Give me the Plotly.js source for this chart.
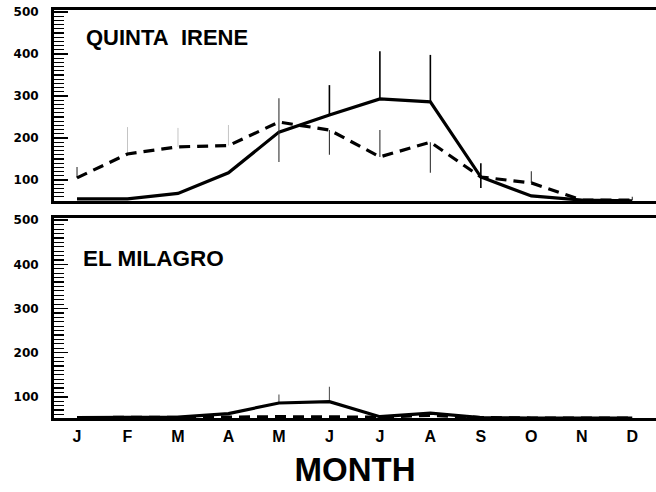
<!DOCTYPE html>
<html>
<head>
<meta charset="utf-8">
<script src="https://cdn.plot.ly/plotly-3.0.1.min.js"></script>
<style>html,body{margin:0;padding:0;background:#fff;}#chart{width:656px;height:492px;}</style>
</head>
<body>
<div id="chart"></div>
<script>
// Month categories (x tick labels)
const months = ["J","F","M","A","M","J","J","A","S","O","N","D"];
const monthIdx = [0,1,2,3,4,5,6,7,8,9,10,11];

// QUINTA IRENE - solid series
const qiSolid      = [55, 55, 68, 117, 214, 255, 293, 286, 107, 62, 52, 50];
const qiSolidPlus  = [0, 0, 0, 0, 0, 71, 114, 112, 33, 0, 0, 0];
const qiSolidMinus = [0, 0, 0, 0, 0, 0, 0, 0, 26, 0, 0, 0];

// QUINTA IRENE - dashed series
const qiDash       = [105, 162, 179, 182, 238, 219, 155, 190, 107, 93, 52, 52];
const qiDashPlus   = [26, 0, 0, 0, 57, 0, 64, 0, 0, 28, 0, 8];
const qiDashMinus  = [0, 0, 0, 0, 95, 59, 0, 73, 0, 0, 0, 0];
// faint upper error marks of the dashed series
const qiDashFaintPlus = [0, 64, 45, 49, 0, 0, 0, 0, 0, 0, 0, 0];

// EL MILAGRO - solid series
const emSolid      = [53, 53, 54, 62, 86, 89, 55, 63, 53, 52, 52, 52];
const emSolidPlus  = [0, 0, 0, 0, 19, 34, 0, 0, 0, 0, 0, 0];
// EL MILAGRO - dashed series
const emDash       = [53, 53, 53, 54, 55, 55, 54, 58, 53, 52, 52, 52];

const black = "#000";
const solidLine = {color: black, width: 3.2};
const dashLine = {color: black, width: 3.2, dash: "11px,7px"};

function eb(plus, minus, color, thick) {
  return {type: "data", symmetric: false, array: plus, arrayminus: minus || plus.map(() => 0),
          color: color, thickness: thick, width: 0, visible: true};
}

const traces = [
  {x: monthIdx, y: qiDash, type: "scatter", mode: "markers",
   marker: {opacity: 0, size: 1}, error_y: eb(qiDashFaintPlus, null, "#c4c4c4", 1),
   xaxis: "x", yaxis: "y", hoverinfo: "skip", showlegend: false},
  {x: monthIdx, y: qiSolid, type: "scatter", mode: "lines", line: solidLine,
   error_y: eb(qiSolidPlus, qiSolidMinus, black, 1.6), xaxis: "x", yaxis: "y", showlegend: false},
  {x: monthIdx, y: qiDash, type: "scatter", mode: "lines", line: dashLine,
   error_y: eb(qiDashPlus, qiDashMinus, "#333", 1.1), xaxis: "x", yaxis: "y", showlegend: false},
  {x: monthIdx, y: emSolid, type: "scatter", mode: "lines", line: solidLine,
   error_y: eb(emSolidPlus, null, "#555", 1.1), xaxis: "x2", yaxis: "y2", showlegend: false},
  {x: monthIdx, y: emDash, type: "scatter", mode: "lines", line: dashLine,
   xaxis: "x2", yaxis: "y2", showlegend: false}
];

const xRange = [-0.456, 11.47];
const yTickFont = {family: "DejaVu Sans", size: 12, color: black, weight: "bold"};
const baseY = {
  tickmode: "linear", tick0: 0, dtick: 100, ticks: "inside", ticklen: 14, tickwidth: 1.6, tickcolor: black,
  minor: {tickmode: "linear", tick0: 0, dtick: 10, ticks: "inside", ticklen: 10, tickwidth: 1.2, tickcolor: black, showgrid: false},
  showline: true, linewidth: 3, linecolor: black, showgrid: false, zeroline: false,
  tickfont: yTickFont, ticklabelstandoff: 10
};

const layout = {
  width: 656, height: 492,
  margin: {l: 54, r: 0, t: 10, b: 74},
  paper_bgcolor: "#fff", plot_bgcolor: "#fff",
  showlegend: false,
  xaxis: {domain: [0, 1], anchor: "y", range: xRange, tickmode: "array", tickvals: monthIdx,
          showticklabels: false, ticks: "", showline: true, mirror: true, linewidth: 3, linecolor: black,
          showgrid: false, zeroline: false},
  yaxis: Object.assign({}, baseY, {domain: [0.532, 1], anchor: "x", range: [50, 505]}),
  xaxis2: {domain: [0, 1], anchor: "y2", range: xRange, tickmode: "array", tickvals: monthIdx, ticktext: months,
           ticks: "", showline: true, mirror: true, linewidth: 3, linecolor: black, showgrid: false, zeroline: false,
           tickfont: {family: "Liberation Sans", size: 16, color: black, weight: "bold"}, ticklabelstandoff: 2,
           title: {text: "MONTH", font: {family: "Liberation Sans", size: 33, color: black, weight: "bold"}, standoff: 14}},
  yaxis2: Object.assign({}, baseY, {domain: [0, 0.49], anchor: "x2", range: [52, 505]}),
  annotations: [
    {text: "QUINTA\u00A0\u00A0IRENE", xref: "paper", yref: "paper", x: 0.05, y: 0.9326, xanchor: "left", yanchor: "middle",
     showarrow: false, font: {family: "Liberation Sans", size: 22, color: black, weight: "bold"}},
    {text: "EL MILAGRO", xref: "paper", yref: "paper", x: 0.045, y: 0.39, xanchor: "left", yanchor: "middle",
     showarrow: false, font: {family: "Liberation Sans", size: 22.5, color: black, weight: "bold"}}
  ]
};

Plotly.newPlot("chart", traces, layout, {staticPlot: true, displayModeBar: false});
</script>
</body>
</html>
